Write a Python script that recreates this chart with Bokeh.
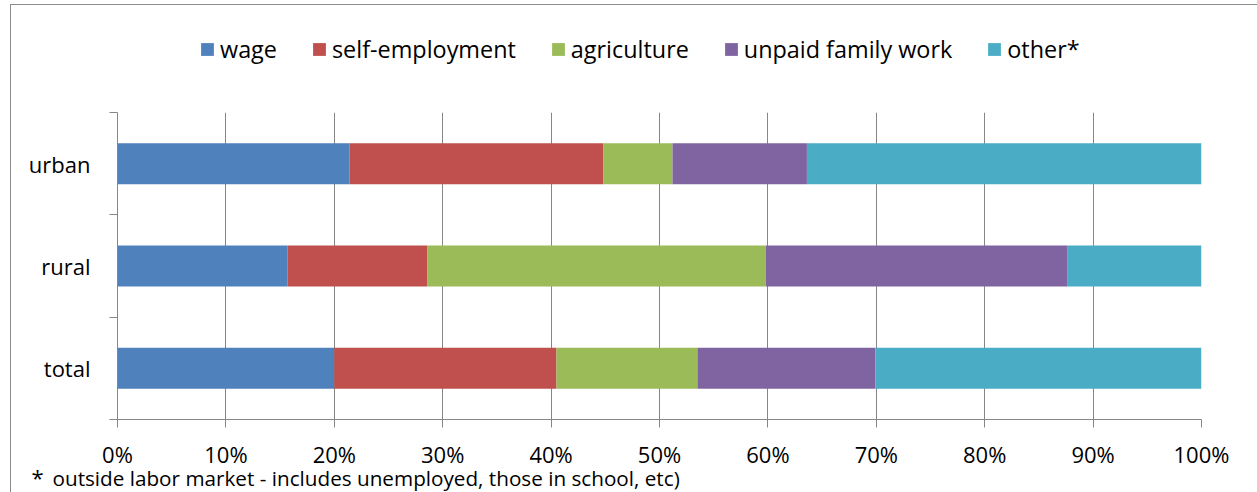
from bokeh.plotting import figure
from bokeh.layouts import column
from bokeh.models import (ColumnDataSource, FixedTicker, PrintfTickFormatter, Legend,
                          LegendItem, Label, Range1d)
from bokeh.embed import file_html
from bokeh.resources import INLINE

categories = ["total", "rural", "urban"]
series = ["wage", "self-employment", "agriculture", "unpaid family work", "other*"]
wage = [20.0, 15.7, 21.4]
self_employment = [20.5, 12.9, 23.4]
agriculture = [13.0, 31.2, 6.4]
unpaid_family_work = [16.4, 27.8, 12.4]
other = [30.1, 12.4, 36.4]
x_ticks = [0, 10, 20, 30, 40, 50, 60, 70, 80, 90, 100]
colors = ["#4F81BD", "#C0504D", "#9BBB59", "#8064A2", "#4BACC6"]
footnote = "outside labor market - includes unemployed, those in school, etc)"

FONT = "Open Sans"
GREY = "#868686"
W = 1257
NAN = float("nan")

ypos = [i + 0.5 for i in range(len(categories))]
keys = ["wage", "self_employment", "agriculture", "unpaid", "other"]
src = ColumnDataSource(dict(y=ypos, wage=wage, self_employment=self_employment,
                            agriculture=agriculture, unpaid=unpaid_family_work, other=other))


def strip(height):
    f = figure(width=W, height=height, output_backend="svg", toolbar_location=None,
               x_axis_location=None, y_axis_location=None,
               x_range=Range1d(0, 1), y_range=Range1d(0, 1),
               min_border=0, min_border_left=0, min_border_right=0,
               min_border_top=0, min_border_bottom=0, frame_align=False)
    f.outline_line_color = None
    f.grid.visible = False
    f.background_fill_color = None
    f.border_fill_color = None
    return f


# ---------- legend strip ----------
leg = strip(100)
proxies = [leg.hbar(y=[NAN], right=[NAN], height=0.4, color=c, line_color=None) for c in colors]
legend = Legend(items=[LegendItem(label=s, renderers=[r]) for s, r in zip(series, proxies)],
                orientation="horizontal", location=(199, 35),
                glyph_width=16, glyph_height=16, label_standoff=5, spacing=34,
                padding=0, margin=0, border_line_color=None, background_fill_alpha=0,
                label_text_font=FONT, label_text_font_size="23.4px", label_text_color="black")
leg.add_layout(legend, "center")

# ---------- main chart ----------
p = figure(width=W, height=372, output_backend="svg", toolbar_location=None,
           x_range=Range1d(0, 100), y_range=Range1d(0, len(categories)),
           min_border_left=117, min_border_right=56, min_border_top=12, min_border_bottom=53)
p.outline_line_color = None
p.background_fill_color = None
p.border_fill_color = None

p.hbar_stack(keys, y="y", height=0.4, color=colors, line_color=None, source=src)

xa = p.xaxis[0]
xa.ticker = FixedTicker(ticks=x_ticks)
xa.formatter = PrintfTickFormatter(format="%d%%")
xa.axis_line_color = GREY
xa.major_tick_line_color = GREY
xa.major_tick_out = 8
xa.major_tick_in = 0
xa.minor_tick_line_color = None
xa.minor_tick_out = 0
xa.major_label_text_font = FONT
xa.major_label_text_font_size = "22px"
xa.major_label_text_color = "black"
xa.major_label_standoff = 11

ya = p.yaxis[0]
ya.ticker = FixedTicker(ticks=ypos, minor_ticks=[0, 1, 2, 3])
ya.major_label_overrides = {y: c for y, c in zip(ypos, categories)}
ya.axis_line_color = GREY
ya.major_tick_line_color = None
ya.major_tick_out = 0
ya.major_tick_in = 0
ya.minor_tick_line_color = GREY
ya.minor_tick_out = 8
ya.minor_tick_in = 0
ya.major_label_text_font = FONT
ya.major_label_text_font_size = "22px"
ya.major_label_text_color = "black"
ya.major_label_standoff = 19

p.xgrid.ticker = FixedTicker(ticks=x_ticks)
p.xgrid.grid_line_color = GREY
p.ygrid.visible = False

# ---------- footnote strip (overlaps the chart's empty bottom margin) ----------
foot = strip(30)
foot.margin = (-10, 0, 0, 0)
foot.add_layout(Label(x=31, y=1, x_units="screen", y_units="screen", text="*",
                      text_baseline="bottom",
                      text_font=FONT, text_font_size="22px", text_color="black"))
foot.add_layout(Label(x=52, y=1, x_units="screen", y_units="screen", text=footnote,
                      text_baseline="bottom",
                      text_font=FONT, text_font_size="20.7px", text_color="black"))

layout = column(leg, p, foot, spacing=0, styles={
    "background-image": "linear-gradient(#8c8c8c, #8c8c8c), linear-gradient(#8c8c8c, #8c8c8c)",
    "background-size": "1px 100%, 100% 1px",
    "background-position": "10px 4px, 10px 4px",
    "background-repeat": "no-repeat",
})

open("out.html", "w").write(file_html(layout, INLINE))
